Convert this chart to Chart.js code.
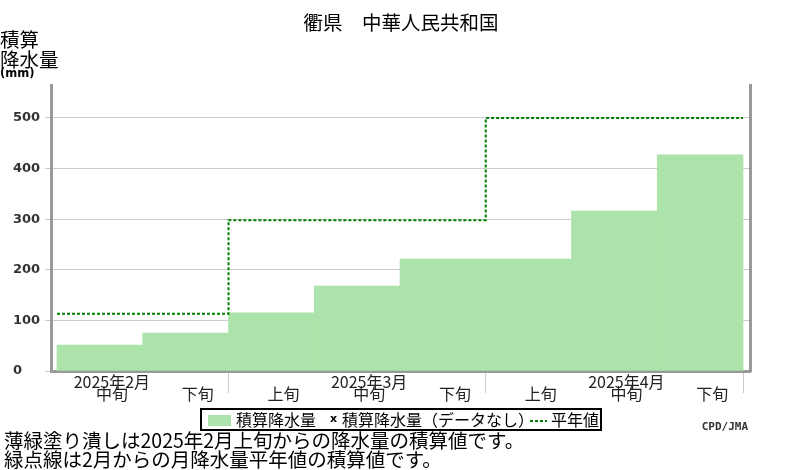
<!DOCTYPE html>
<html lang="ja">
<head>
<meta charset="utf-8">
<title>積算降水量</title>
<script src="https://cdn.jsdelivr.net/npm/chart.js@4.4.1/dist/chart.umd.min.js"></script>
<style>
  html, body { margin: 0; padding: 0; background: #fff; }
  #wrap { width: 800px; height: 470px; }
</style>
</head>
<body>
<div id="wrap"><canvas id="chart" width="800" height="470"></canvas></div>
<script>
// values
const dekadLabels = [
  ['2025年2月', '中旬'], ['', '下旬'],
  ['', '上旬'], ['2025年3月', '中旬'], ['', '下旬'],
  ['', '上旬'], ['2025年4月', '中旬'], ['', '下旬']
];
const accumPrecip = [51, 75, 115, 168, 221, 221, 316, 427];
// normal accumulated precipitation, stepping at the start of each month (dekad index)
const monthStarts = [0, 2, 5, 8];
const normalAccum = [113, 298, 500, 500];
const monthEnds = [2, 5, 8];
const yTicks = [0, 100, 200, 300, 400, 500];

const titleText = '衢県　中華人民共和国';
const notes = [
  '薄緑塗り潰しは2025年2月上旬からの降水量の積算値です。',
  '緑点線は2月からの月降水量平年値の積算値です。'
];

const barColor = '#abe3aa';
const normalColor = '#008000';
const jpFont = '"Noto Sans CJK JP", "Noto Sans", sans-serif';

// title, axis title, legend box and notes
const decorations = {
  id: 'decorations',
  afterDraw(chart) {
    const ctx = chart.ctx;
    const ds = chart.data.datasets;
    ctx.save();
    ctx.fillStyle = '#000';
    ctx.textBaseline = 'middle';

    ctx.font = '19.5px ' + jpFont;
    ctx.textAlign = 'center';
    ctx.fillText(titleText, 401, 23);

    ctx.textAlign = 'left';
    ctx.fillText('積算', 0, 40);
    ctx.fillText('降水量', 0, 60);
    ctx.font = 'bold 11.5px "DejaVu Sans"';
    ctx.fillText('(mm)', 0, 74);

    // legend
    ctx.strokeStyle = '#000';
    ctx.lineWidth = 2;
    ctx.strokeRect(201, 409, 400, 21);
    ctx.fillStyle = barColor;
    ctx.fillRect(208, 415, 23, 11);
    ctx.fillStyle = '#000';
    ctx.font = '16px ' + jpFont;
    ctx.fillText(ds[1].label, 236, 420);
    ctx.fillText(ds[2].label, 342, 420);
    ctx.fillText(ds[0].label, 551, 420);
    ctx.font = 'bold 11px "DejaVu Sans"';
    ctx.fillText('x', 330, 419);
    ctx.strokeStyle = normalColor;
    ctx.setLineDash([3, 2]);
    ctx.beginPath();
    ctx.moveTo(530, 421);
    ctx.lineTo(547, 421);
    ctx.stroke();
    ctx.setLineDash([]);

    ctx.fillStyle = '#333';
    ctx.font = 'bold 11px "DejaVu Sans Mono"';
    ctx.textAlign = 'right';
    ctx.fillText('CPD/JMA', 748, 427);

    ctx.fillStyle = '#000';
    ctx.textAlign = 'left';
    ctx.font = '19.5px ' + jpFont;
    ctx.fillText(notes[0], 4, 441);
    ctx.fillText(notes[1], 4, 460);
    ctx.restore();
  }
};

new Chart(document.getElementById('chart'), {
  type: 'bar',
  data: {
    datasets: [
      {
        type: 'line',
        label: '平年値',
        data: monthStarts.map((x, i) => ({ x, y: normalAccum[i] })),
        stepped: 'before',
        borderColor: normalColor,
        borderWidth: 2,
        borderDash: [3, 2],
        pointRadius: 0,
        fill: false,
        order: 0
      },
      {
        label: '積算降水量',
        data: accumPrecip.map((y, i) => ({ x: i + 0.5, y })),
        backgroundColor: barColor,
        borderWidth: 0,
        grouped: false,
        barPercentage: 1,
        categoryPercentage: 1,
        order: 1
      },
      {
        type: 'line',
        label: '積算降水量（データなし）',
        data: [],
        order: 2
      }
    ]
  },
  options: {
    responsive: false,
    animation: false,
    devicePixelRatio: 1,
    layout: { padding: { left: 13, right: 50, top: 85, bottom: 0 } },
    plugins: { legend: { display: false }, tooltip: { enabled: false } },
    scales: {
      x: {
        type: 'linear',
        offset: false,
        min: -0.07,
        max: 8.0816,
        afterBuildTicks(s) {
          s.ticks = dekadLabels.map((l, i) => ({ value: i + 0.5 }))
            .concat(monthEnds.map(v => ({ value: v })));
        },
        afterFit(s) { s.height = 99; },
        grid: {
          offset: false,
          drawOnChartArea: false,
          tickLength: 22,
          color: c => (c.tick && monthEnds.includes(c.tick.value)) ? '#ccc' : 'rgba(0,0,0,0)'
        },
        border: { color: '#999', width: 3 },
        ticks: {
          autoSkip: false,
          maxRotation: 0,
          padding: -17,
          labelOffset: 12,
          color: '#222',
          font: { family: jpFont, size: 16, lineHeight: 0.75 },
          callback(v) {
            const i = v - 0.5;
            return Number.isInteger(i) ? dekadLabels[i] : '';
          }
        }
      },
      y: {
        min: 0,
        max: 565,
        afterBuildTicks(s) { s.ticks = yTicks.map(v => ({ value: v })); },
        afterFit(s) { s.width = 38; },
        grid: { color: '#ccc', tickLength: 6 },
        border: { color: '#999', width: 3 },
        ticks: {
          crossAlign: 'far',
          padding: 4,
          color: '#333',
          font: { family: 'DejaVu Sans', weight: 'bold', size: 13 }
        }
      },
      yRight: {
        position: 'right',
        min: 0,
        max: 565,
        grid: { display: false },
        ticks: { display: false },
        border: { color: '#999', width: 3 },
        afterFit(s) { s.width = 0; }
      }
    }
  },
  plugins: [decorations]
});
</script>
</body>
</html>
